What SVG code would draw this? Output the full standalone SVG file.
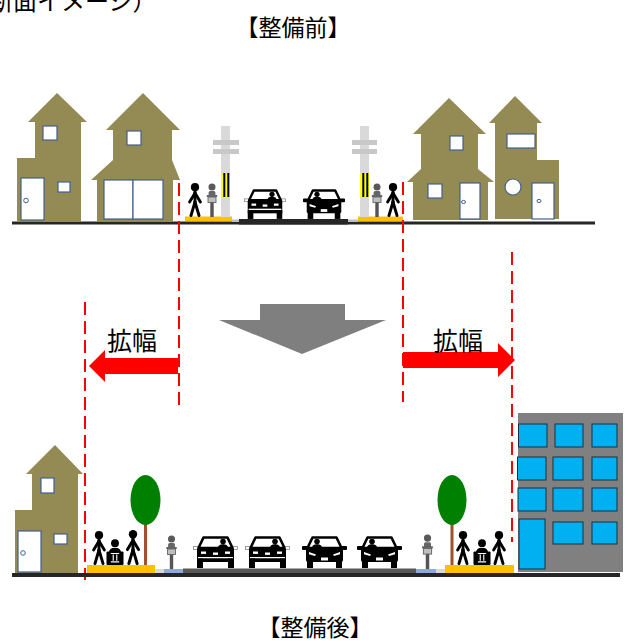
<svg xmlns="http://www.w3.org/2000/svg" xmlns:xlink="http://www.w3.org/1999/xlink" width="631" height="644" viewBox="0 0 631 644">
  <style>
    .lbl { font-family: "Noto Sans CJK JP", "Noto Sans CJK SC", sans-serif; fill: #000; }
    .house { fill: #948A54; }
    .win { fill: #FFFFFF; stroke: #41618F; stroke-width: 1.2; }
    .bwin { fill: #00B0F0; stroke: #1F2F3A; stroke-width: 1; }
    .dash { stroke: #FF0000; stroke-width: 2; stroke-dasharray: 13 6; fill: none; }
    .pole { fill: #D9D9D9; }
    .bar { fill: #C8C8C8; }
    .walk { fill: #FFC000; }
  </style>
  <defs>
    <!-- pedestrian stick figure -->
    <symbol id="ped" viewBox="0 0 14 34">
      <circle cx="7" cy="4.2" r="4.1" fill="#000"/>
      <g stroke="#000" stroke-width="2.9" stroke-linecap="round" fill="none">
        <line x1="7" y1="8" x2="7" y2="20"/>
        <line x1="7" y1="10" x2="1.6" y2="19"/>
        <line x1="7" y1="10" x2="12.4" y2="19"/>
        <line x1="7" y1="19" x2="3" y2="32.5"/>
        <line x1="7" y1="19" x2="11" y2="32.5"/>
      </g>
    </symbol>
    <!-- cyclist, front view -->
    <symbol id="bike" viewBox="0 0 12 34">
      <circle cx="6" cy="4" r="3.5" fill="#595959"/>
      <rect x="2.6" y="8" width="6.8" height="8" rx="1.5" fill="#666"/>
      <line x1="0.8" y1="13" x2="11.2" y2="13" stroke="#666" stroke-width="2.2"/>
      <rect x="2" y="14" width="8" height="5.5" fill="#BFBFBF" stroke="#666" stroke-width="0.9"/>
      <rect x="4.3" y="19.5" width="3.4" height="14.5" fill="#555"/>
    </symbol>
    <!-- wheelchair user -->
    <symbol id="chair" viewBox="0 0 18 26">
      <circle cx="9" cy="4" r="3.8" fill="#000"/>
      <path d="M3,25 L3,14 Q3,8.5 9,8.5 Q15,8.5 15,14 L15,25 Z" fill="#000"/>
      <rect x="0.8" y="12" width="2.8" height="13" rx="1" fill="#000"/>
      <rect x="14.4" y="12" width="2.8" height="13" rx="1" fill="#000"/>
      <g stroke="#FFF" stroke-width="1.1">
        <line x1="7.3" y1="15" x2="7.3" y2="21"/>
        <line x1="10.7" y1="15" x2="10.7" y2="21"/>
        <line x1="5" y1="22" x2="13" y2="22"/>
        <line x1="5" y1="14" x2="13" y2="14"/>
      </g>
    </symbol>
    <!-- car type A: rectangular lamps -->
    <symbol id="carA" viewBox="0 0 45 32">
      <rect x="0.5" y="10.5" width="5.5" height="3" fill="#FFF" stroke="#888" stroke-width="0.8"/>
      <rect x="39" y="10.5" width="5.5" height="3" fill="#FFF" stroke="#888" stroke-width="0.8"/>
      <path d="M10.5,1.5 L34.5,1.5 L39.5,12 L5.5,12 Z" fill="#FFF" stroke="#000" stroke-width="2.6" stroke-linejoin="round"/>
      <circle cx="30" cy="5.6" r="2.8" fill="#000"/>
      <path d="M25,12 Q25,8.3 30,8.3 Q35,8.3 35,12 Z" fill="#000"/>
      <rect x="4" y="12" width="37" height="11" rx="1" fill="#000"/>
      <rect x="8" y="15.5" width="5" height="2.4" fill="#FFF"/>
      <rect x="20" y="16.5" width="5" height="2.4" fill="#FFF"/>
      <rect x="32" y="15.5" width="5" height="2.4" fill="#FFF"/>
      <rect x="5" y="21" width="35" height="1.5" fill="#FFF"/>
      <rect x="4" y="22.5" width="37" height="3.5" fill="#000"/>
      <rect x="4" y="22.5" width="6" height="9.5" fill="#000"/>
      <rect x="35" y="22.5" width="6" height="9.5" fill="#000"/>
    </symbol>
    <!-- car type B: angled headlamps -->
    <symbol id="carB" viewBox="0 0 45 32">
      <rect x="0" y="10" width="6" height="4" rx="1" fill="#000"/>
      <rect x="39" y="10" width="6" height="4" rx="1" fill="#000"/>
      <path d="M10.5,1.5 L34.5,1.5 L39.5,12 L5.5,12 Z" fill="#FFF" stroke="#000" stroke-width="2.6" stroke-linejoin="round"/>
      <circle cx="15" cy="5.6" r="2.8" fill="#000"/>
      <path d="M10,12 Q10,8.3 15,8.3 Q20,8.3 20,12 Z" fill="#000"/>
      <path d="M4,12 L41,12 L41,24 Q41,26 39,26 L6,26 Q4,26 4,24 Z" fill="#000"/>
      <path d="M7,16 L14,18.5 L13,20 L7,18.3 Z" fill="#FFF"/>
      <path d="M38,16 L31,18.5 L32,20 L38,18.3 Z" fill="#FFF"/>
      <rect x="19" y="21.5" width="7" height="3" fill="#FFF"/>
      <rect x="5" y="25" width="6" height="7" fill="#000"/>
      <rect x="34" y="25" width="6" height="7" fill="#000"/>
    </symbol>
  </defs>

  <!-- titles -->
  <text class="lbl" x="-59" y="10" font-size="24">（横断面イメージ）</text>
  <text class="lbl" x="293" y="36" font-size="23" text-anchor="middle">【整備前】</text>
  <text class="lbl" x="315" y="636" font-size="23" text-anchor="middle">【整備後】</text>

  <!-- ===== before: street cross-section ===== -->
  <g id="before-ground">
    <rect x="12" y="221.5" width="583" height="3" fill="#262626"/>
    <rect x="232" y="219.5" width="7" height="2.5" fill="#BFBFBF"/>
    <rect x="348" y="219.5" width="10" height="2.5" fill="#BFBFBF"/>
    <rect x="239" y="219" width="109" height="5.5" fill="#262626"/>
    <rect class="walk" x="185" y="216.5" width="47" height="4.5"/>
    <rect class="walk" x="358" y="216.5" width="45" height="4.5"/>
  </g>

  <g id="house-b1">
    <path class="house" d="M17,222 L17,158 L35,158 L35,122 L28,122 L57,93 L87,122 L81,122 L81,222 Z"/>
    <rect class="win" x="43" y="126" width="14" height="14"/>
    <rect class="win" x="58" y="182" width="12" height="10"/>
    <rect class="win" x="21" y="178" width="23" height="42"/>
    <circle cx="26" cy="200.5" r="2.3" fill="none" stroke="#41618F" stroke-width="1"/>
  </g>
  <g id="house-b2">
    <path class="house" d="M97,222 L97,180 L91,180 L113,160 L113,130 L106,130 L143,93 L180,130 L172,130 L172,160 L180,180 L173,180 L173,222 Z"/>
    <rect class="win" x="127" y="131" width="14" height="14"/>
    <rect class="win" x="104" y="180" width="29" height="39"/>
    <rect class="win" x="133" y="180" width="30" height="39"/>
  </g>
  <g id="house-b3">
    <path class="house" d="M413,220 L413,182 L407,182 L421,169 L421,134 L413,134 L449,98 L486,134 L478,134 L478,169 L494,182 L488,182 L488,220 Z"/>
    <rect class="win" x="450" y="136" width="13" height="14"/>
    <rect class="win" x="428" y="184" width="14" height="14"/>
    <rect class="win" x="460" y="183" width="20" height="36"/>
    <ellipse cx="463.5" cy="202" rx="2" ry="1.6" fill="none" stroke="#41618F" stroke-width="1"/>
  </g>
  <g id="house-b4">
    <path class="house" d="M495,219 L495,123 L489,123 L515,96 L542,123 L537,123 L537,160 L559,160 L559,219 Z"/>
    <rect class="win" x="507" y="134" width="28" height="14"/>
    <circle class="win" cx="513" cy="187" r="8"/>
    <rect class="win" x="532" y="183" width="22" height="36"/>
    <ellipse cx="539" cy="201" rx="2" ry="1.6" fill="none" stroke="#41618F" stroke-width="1"/>
  </g>

  <g id="pole-left">
    <rect class="pole" x="221" y="126" width="9" height="91"/>
    <rect class="bar" x="213" y="140" width="26" height="5"/>
    <rect class="bar" x="213" y="149" width="26" height="5"/>
    <rect x="221" y="173" width="9" height="24" fill="#FFFF00"/>
    <rect x="223.3" y="173" width="2" height="24" fill="#000"/>
    <rect x="227.3" y="173" width="2" height="24" fill="#000"/>
  </g>
  <g id="pole-right">
    <rect class="pole" x="360" y="126" width="9" height="91"/>
    <rect class="bar" x="352" y="140" width="25" height="5"/>
    <rect class="bar" x="352" y="149" width="25" height="5"/>
    <rect x="360" y="173" width="9" height="24" fill="#FFFF00"/>
    <rect x="362.3" y="173" width="2" height="24" fill="#000"/>
    <rect x="366.3" y="173" width="2" height="24" fill="#000"/>
  </g>

  <g id="users-before">
    <use xlink:href="#ped" x="188" y="183" width="14" height="34"/>
    <use xlink:href="#bike" x="205.5" y="183" width="13" height="34"/>
    <use xlink:href="#bike" x="370.5" y="183" width="13" height="34"/>
    <use xlink:href="#ped" x="386" y="183" width="14" height="34"/>
    <use xlink:href="#carA" x="244" y="189" width="42" height="30"/>
    <use xlink:href="#carB" x="303" y="189" width="42" height="30"/>
  </g>

  <!-- ===== widening indicators ===== -->
  <g id="connectors">
    <line class="dash" x1="179" y1="183" x2="179" y2="406"/>
    <line class="dash" x1="403" y1="182" x2="403" y2="402"/>
    <line class="dash" x1="85" y1="302" x2="85" y2="580"/>
    <line class="dash" x1="512" y1="252" x2="512" y2="542"/>
    <path d="M260,304 L345,304 L345,320 L386,320 L302,354 L219,320 L260,320 Z" fill="#7F7F7F"/>
    <path d="M178,358 L105,358 L105,350 L89,366 L105,382 L105,374 L178,374 Z" fill="#FF0000"/>
    <path d="M403,352 L498,352 L498,343 L515,360 L498,377 L498,368 L403,368 Z" fill="#FF0000"/>
  </g>
  <text class="lbl" x="132" y="350" font-size="25" text-anchor="middle">拡幅</text>
  <text class="lbl" x="458" y="350" font-size="25" text-anchor="middle">拡幅</text>

  <!-- ===== after: widened street ===== -->
  <g id="after-ground">
    <rect x="12" y="573" width="608" height="4" fill="#262626"/>
    <rect class="walk" x="87" y="565" width="68" height="8"/>
    <rect x="155" y="569" width="9" height="4" fill="#D9D9D9"/>
    <rect x="164" y="569" width="19" height="4" fill="#8EA9DB"/>
    <rect x="183" y="568.5" width="233" height="4.5" fill="#595959"/>
    <rect x="416" y="569" width="20" height="4" fill="#8EA9DB"/>
    <rect x="436" y="569" width="9" height="4" fill="#D9D9D9"/>
    <rect class="walk" x="445" y="565" width="69" height="8"/>
  </g>

  <g id="house-a1">
    <path class="house" d="M15,573 L15,510 L32,510 L32,474 L26,474 L55,445 L83,474 L78,474 L78,573 Z"/>
    <rect class="win" x="41" y="478" width="13" height="15"/>
    <rect class="win" x="54" y="534" width="13" height="10"/>
    <rect class="win" x="18" y="531" width="23" height="41"/>
    <circle cx="23" cy="553" r="2.3" fill="none" stroke="#41618F" stroke-width="1"/>
  </g>

  <g id="building">
    <rect x="518" y="413" width="105" height="159" fill="#808080"/>
    <rect class="bwin" x="518.5" y="424" width="28.5" height="23"/>
    <rect class="bwin" x="555" y="424" width="28" height="23"/>
    <rect class="bwin" x="592" y="424" width="25" height="23"/>
    <rect class="bwin" x="517.5" y="457" width="28.5" height="23"/>
    <rect class="bwin" x="553" y="457" width="30" height="23"/>
    <rect class="bwin" x="592" y="457" width="25" height="23"/>
    <rect class="bwin" x="518" y="488" width="28" height="23"/>
    <rect class="bwin" x="553" y="488" width="30" height="23"/>
    <rect class="bwin" x="592" y="488" width="25" height="23"/>
    <rect class="bwin" x="519" y="519" width="26" height="50"/>
    <rect class="bwin" x="553" y="522" width="30" height="22"/>
    <rect class="bwin" x="592" y="522" width="25" height="22"/>
  </g>

  <g id="tree-left">
    <rect x="144" y="522" width="3" height="43" fill="#A0522D"/>
    <ellipse cx="145.5" cy="500" rx="15" ry="25" fill="#008000"/>
  </g>
  <g id="tree-right">
    <rect x="450.5" y="522" width="3" height="43" fill="#A0522D"/>
    <ellipse cx="452" cy="500" rx="14.5" ry="25" fill="#008000"/>
  </g>

  <g id="users-after">
    <use xlink:href="#ped" x="91.5" y="531" width="15" height="34"/>
    <use xlink:href="#chair" x="105.5" y="539" width="19" height="27"/>
    <use xlink:href="#ped" x="125.5" y="530" width="15" height="35"/>
    <use xlink:href="#bike" x="164.5" y="535" width="14" height="34"/>
    <use xlink:href="#carA" x="193" y="536" width="45" height="32"/>
    <use xlink:href="#carA" x="245" y="536" width="45" height="32"/>
    <use xlink:href="#carB" x="302" y="536" width="45" height="32"/>
    <use xlink:href="#carB" x="357" y="536" width="45" height="32"/>
    <use xlink:href="#bike" x="420.5" y="534" width="14" height="35"/>
    <use xlink:href="#ped" x="455.5" y="531" width="15" height="34"/>
    <use xlink:href="#chair" x="472.5" y="539" width="19" height="27"/>
    <use xlink:href="#ped" x="491.5" y="531" width="15" height="34"/>
  </g>
</svg>
